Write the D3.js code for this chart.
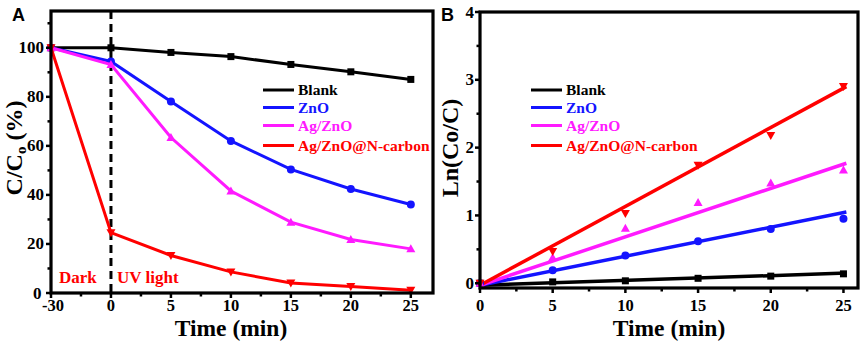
<!DOCTYPE html>
<html><head><meta charset="utf-8">
<script src="https://cdn.jsdelivr.net/npm/d3@7"></script>
<style>body{margin:0;background:#fff}svg{display:block}text{font-family:"Liberation Serif","Times New Roman",serif;font-weight:bold}</style>
</head><body>
<svg id="c" width="865" height="342"></svg>
<script>
// ---- Data ----
const seriesNames = ["Blank", "ZnO", "Ag/ZnO", "Ag/ZnO@N-carbon"];
const seriesColors = ["#000000", "#1414ff", "#ff1aff", "#ff0000"];
const seriesSymbols = ["square", "circle", "up", "down"];
// Panel A
const timeA = [-30, 0, 5, 10, 15, 20, 25];
const blankA = [100, 100, 98.1, 96.4, 93.2, 90.2, 87.1];
const znoA = [100, 94.4, 78.1, 62.0, 50.4, 42.4, 36.1];
const agznoA = [100, 93.2, 63.4, 41.6, 28.9, 21.8, 18.0];
const agznoNcA = [100, 24.6, 15.3, 8.6, 4.1, 2.7, 1.1];
const yTicksA = [0, 20, 40, 60, 80, 100];
// Panel B
const timeB = [0, 5, 10, 15, 20, 25];
const blankB = [0, 0.02, 0.036, 0.073, 0.105, 0.139];
const znoB = [0, 0.19, 0.41, 0.62, 0.80, 0.95];
const agznoB = [0, 0.38, 0.81, 1.19, 1.48, 1.67];
const agznoNcB = [0, 0.47, 1.03, 1.74, 2.18, 2.90];
const fitX = [0, 25.2];
const fitBlank = [-0.03, 0.15];
const fitZnO = [-0.03, 1.05];
const fitAgZnO = [-0.03, 1.77];
const fitAgZnONc = [-0.03, 2.90];
const xTicksB = [0, 5, 10, 15, 20, 25];
const yTicksB = [0, 1, 2, 3, 4];

const svg = d3.select("#c");
const seriesA = [blankA, znoA, agznoA, agznoNcA];
const seriesB = [blankB, znoB, agznoB, agznoNcB];
const fitsB = [fitBlank, fitZnO, fitAgZnO, fitAgZnONc];

function marker(g, sym, x, y, color) {
  if (sym === "square") g.append("rect").attr("x", x-3.5).attr("y", y-3.5).attr("width", 7).attr("height", 7).attr("fill", color);
  else if (sym === "circle") g.append("circle").attr("cx", x).attr("cy", y).attr("r", 4).attr("fill", color);
  else if (sym === "up") g.append("path").attr("d", `M${x},${y-4.5}L${x+4.5},${y+3.5}L${x-4.5},${y+3.5}Z`).attr("fill", color);
  else g.append("path").attr("d", `M${x},${y+4.5}L${x+4.5},${y-3.5}L${x-4.5},${y-3.5}Z`).attr("fill", color);
}

function frame(L, R, T, B) {
  svg.append("rect").attr("x", L).attr("y", T).attr("width", R-L).attr("height", B-T)
    .attr("fill", "none").attr("stroke", "#000").attr("stroke-width", 3.2);
}

function legend(x0) {
  const rows = [90, 107.5, 125.5, 145.5];
  seriesNames.forEach((n, i) => {
    svg.append("line").attr("x1", x0).attr("x2", x0 + 31).attr("y1", rows[i]).attr("y2", rows[i])
      .attr("stroke", seriesColors[i]).attr("stroke-width", 3);
    svg.append("text").attr("x", x0 + 35).attr("y", rows[i] + 5).attr("fill", seriesColors[i])
      .attr("font-size", 15.5).text(n);
  });
}

// ---- Panel A ----
{
  const L = 51, R = 433, T = 11, B = 293;
  const idx = d3.range(timeA.length);
  const x = d3.scaleLinear().domain([0, 6.37]).range([L, R]);
  const y = d3.scaleLinear().domain([0, 115]).range([B, T]);
  const g = svg.append("g");
  g.append("line").attr("x1", x(1)).attr("x2", x(1)).attr("y1", T).attr("y2", B)
    .attr("stroke", "#000").attr("stroke-width", 3).attr("stroke-dasharray", "8,5");
  seriesA.forEach((vals, si) => {
    const line = d3.line().x((d, i) => x(idx[i])).y(d => y(d));
    g.append("path").attr("d", line(vals)).attr("fill", "none").attr("stroke", seriesColors[si]).attr("stroke-width", 3);
    vals.forEach((v, i) => marker(g, seriesSymbols[si], x(idx[i]), y(v), seriesColors[si]));
  });
  idx.forEach(i => svg.append("line").attr("x1", x(i)).attr("x2", x(i)).attr("y1", B).attr("y2", B + 5).attr("stroke", "#000").attr("stroke-width", 2.5));
  d3.range(0.5, 6.4, 1).forEach(i => svg.append("line").attr("x1", x(i)).attr("x2", x(i)).attr("y1", B).attr("y2", B + 3.5).attr("stroke", "#000").attr("stroke-width", 2.5));
  idx.forEach(i => svg.append("text").attr("x", x(i) + (i === 0 ? 2 : 0)).attr("y", 311).attr("text-anchor", "middle").attr("font-size", 16.5).text(timeA[i]));
  yTicksA.forEach(v => {
    svg.append("line").attr("x1", L - 5).attr("x2", L).attr("y1", y(v)).attr("y2", y(v)).attr("stroke", "#000").attr("stroke-width", 2.5);
    svg.append("text").attr("x", v === 0 ? 41.5 : 44).attr("y", y(v) + 5.5).attr("text-anchor", "end").attr("font-size", 17).text(v);
  });
  d3.range(10, 115, 20).forEach(v => svg.append("line").attr("x1", L - 3.5).attr("x2", L).attr("y1", y(v)).attr("y2", y(v)).attr("stroke", "#000").attr("stroke-width", 2.5));
  frame(L, R, T, B);
  svg.append("text").attr("x", 59).attr("y", 283).attr("fill", "#ff0000").attr("font-size", 17).text("Dark");
  svg.append("text").attr("x", 117).attr("y", 283).attr("fill", "#ff0000").attr("font-size", 17).text("UV light");
  legend(263);
  svg.append("text").attr("x", 231).attr("y", 336).attr("text-anchor", "middle").attr("font-size", 23.5).text("Time (min)");
  const yt = svg.append("text").attr("transform", "translate(22,148) rotate(-90)").attr("text-anchor", "middle").attr("font-size", 24);
  yt.append("tspan").text("C/C");
  yt.append("tspan").attr("font-size", 15).attr("dy", 4).text("o");
  yt.append("tspan").attr("dy", -4).text(" (%)");
  svg.append("text").attr("x", 12).attr("y", 21).attr("font-size", 18).style("font-family", "'Liberation Sans',Arial,sans-serif").text("A");
}

// ---- Panel B ----
{
  const L = 480, R = 858, T = 12, B = 288;
  const x = d3.scaleLinear().domain([0, 26]).range([L, R]);
  const y = d3.scaleLinear().domain([-0.07, 4]).range([B, T]);
  const g = svg.append("g");
  fitsB.forEach((f, si) => {
    g.append("line").attr("x1", x(fitX[0])).attr("x2", x(fitX[1])).attr("y1", y(f[0])).attr("y2", y(f[1]))
      .attr("stroke", seriesColors[si]).attr("stroke-width", 3.5);
  });
  seriesB.forEach((vals, si) => {
    vals.forEach((v, i) => marker(g, seriesSymbols[si], x(timeB[i]), y(v), seriesColors[si]));
  });
  xTicksB.forEach(v => {
    svg.append("line").attr("x1", x(v)).attr("x2", x(v)).attr("y1", B).attr("y2", B + 5).attr("stroke", "#000").attr("stroke-width", 2.5);
    svg.append("text").attr("x", x(v)).attr("y", 311).attr("text-anchor", "middle").attr("font-size", 16.5).text(v);
  });
  d3.range(2.5, 26, 5).forEach(v => svg.append("line").attr("x1", x(v)).attr("x2", x(v)).attr("y1", B).attr("y2", B + 3.5).attr("stroke", "#000").attr("stroke-width", 2.5));
  yTicksB.forEach(v => {
    svg.append("line").attr("x1", L - 5).attr("x2", L).attr("y1", y(v)).attr("y2", y(v)).attr("stroke", "#000").attr("stroke-width", 2.5);
    svg.append("text").attr("x", 474).attr("y", y(v) + 5.5).attr("text-anchor", "end").attr("font-size", 17).text(v);
  });
  d3.range(0.5, 4, 1).forEach(v => svg.append("line").attr("x1", L - 3.5).attr("x2", L).attr("y1", y(v)).attr("y2", y(v)).attr("stroke", "#000").attr("stroke-width", 2.5));
  frame(L, R, T, B);
  legend(531);
  svg.append("text").attr("x", 669).attr("y", 336).attr("text-anchor", "middle").attr("font-size", 23.5).text("Time (min)");
  svg.append("text").attr("transform", "translate(458,148) rotate(-90)").attr("text-anchor", "middle").attr("font-size", 24).text("Ln(Co/C)");
  svg.append("text").attr("x", 441).attr("y", 21).attr("font-size", 18).style("font-family", "'Liberation Sans',Arial,sans-serif").text("B");
}
</script>
</body></html>
